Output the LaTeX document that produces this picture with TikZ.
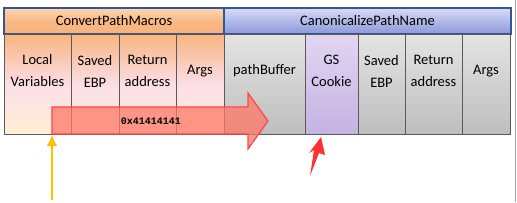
\documentclass[tikz,border=0pt]{standalone}
\usepackage{fontspec}
\setmainfont{Carlito}
\newfontfamily\hexfont{Liberation Mono}
\usepackage{xcolor}
\definecolor{hdrorange}{RGB}{248,178,122}
\definecolor{hdrorangelt}{RGB}{252,214,178}
\definecolor{hdrblue}{RGB}{140,152,218}
\definecolor{hdrbluelt}{RGB}{214,219,245}
\definecolor{hdredge}{RGB}{52,84,150}
\definecolor{cellorange}{RGB}{248,180,126}
\definecolor{cellcream}{RGB}{255,240,214}
\definecolor{cellpink}{RGB}{251,222,230}
\definecolor{cellgray}{RGB}{190,190,190}
\definecolor{cellgraylt}{RGB}{228,228,228}
\definecolor{cookie}{RGB}{196,178,226}
\definecolor{cookielt}{RGB}{226,214,242}
\definecolor{celledge}{RGB}{90,90,90}
\definecolor{overflow}{RGB}{255,120,104}
\definecolor{overedge}{RGB}{255,70,70}
\definecolor{ptryellow}{RGB}{255,192,0}
\definecolor{ptrred}{RGB}{255,50,50}
\usetikzlibrary{arrows.meta,positioning}
\tikzset{
    hdrbox/.style     = {rectangle, draw=hdredge, line width=1.2pt, inner sep=0pt,
                         minimum height=26pt, font=\fontsize{14.5}{17}\selectfont},
    hdrleft/.style    = {hdrbox, top color=hdrorangelt, bottom color=hdrorange,
                         middle color=hdrorange!80!hdrorangelt},
    hdrright/.style   = {hdrbox, top color=hdrbluelt, bottom color=hdrblue},
    cellbox/.style    = {rectangle, draw=celledge, line width=0.8pt, inner sep=0pt,
                         minimum height=100pt},
    orangecell/.style = {cellbox, top color=cellorange, bottom color=cellcream,
                         middle color=cellpink},
    graycell/.style   = {cellbox, top color=cellgraylt, bottom color=cellgray},
    cookiecell/.style = {cellbox, top color=cookielt, bottom color=cookie},
    celltext/.style   = {align=center, inner sep=0pt,
                         font=\fontsize{14.5}{22}\selectfont},
    ptrArrow/.style   = {-{Latex[length=11pt,width=11pt]}, line width=2.6pt, draw=ptryellow}
}
\begin{document}
\begin{tikzpicture}[x=1pt, y=-1pt]
\useasboundingbox (0,0) rectangle (517,202);
% stack frames
\node[hdrleft,  minimum width=220pt] (convert) at (114,21)   {ConvertPathMacros};
\node[hdrright, minimum width=287pt] (canon)   at (367.5,21) {CanonicalizePathName};
\foreach \name/\l/\r/\sty/\txt in {
   lvars/4/71/orangecell/{Local\\Variables},
   sebpa/71/119/orangecell/{Saved\\EBP},
   reta/119/176/orangecell/{Return\\address},
   argsa/176/224/orangecell/{Args},
   pbuf/224/305/graycell/{pathBuffer},
   gscookie/305/358/cookiecell/{GS\\Cookie},
   sebpb/358/405/graycell/{Saved\\EBP},
   retb/405/462/graycell/{Return\\address},
   argsb/462/510/graycell/{Args}}
{
   \node[\sty, minimum width={(\r-\l)*1pt}] (\name) at ({(\l+\r)/2},84) {};
   \node[celltext] (\name-t) at ({(\l+\r)/2},71) {\txt};
}
% overflowing copy
\draw[overedge, line width=1.2pt, fill=overflow, fill opacity=0.75, line join=miter]
   (52,107) -- (248,107) -- (248,93) -- (268,121) -- (248,149)
   -- (248,134) -- (52,134) -- cycle;
\node[font=\hexfont\bfseries\fontsize{10}{12}\selectfont] (payload) at (151,121)
   {0x41414141};
\node[font=\fontsize{5}{6}\selectfont, text=gray, right=1pt of payload] (dots) {...};
% pointers
\coordinate (ystart) at (52,200);
\coordinate (yend)   at (52,135);
\draw[ptrArrow] (ystart) -- (yend);
\fill[ptrred] (321,137) -- (309,153) -- (314,150) -- (310,176)
   -- (319,153) -- (325,155) -- cycle;
% frame edge
\draw[gray!70, line width=1pt] (515.5,0) -- (515.5,202);
\end{tikzpicture}
\end{document}
